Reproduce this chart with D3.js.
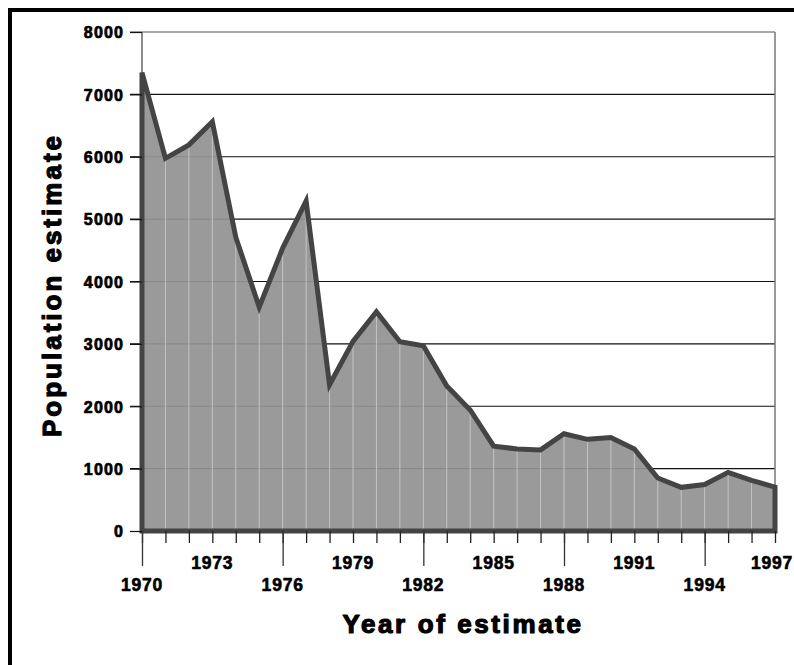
<!DOCTYPE html>
<html>
<head>
<meta charset="utf-8">
<script src="https://cdn.jsdelivr.net/npm/d3@7"></script>
<style>
  html, body { margin: 0; padding: 0; background: #fff; }
  svg { display: block; }
  text { font-family: "Liberation Sans", Arial, sans-serif; font-weight: bold; fill: #000; }
  .heavy { stroke: #000; paint-order: stroke; stroke-linejoin: round; }
</style>
</head>
<body>
<svg id="chart" width="794" height="665"></svg>
<script>
const years = [1970,1971,1972,1973,1974,1975,1976,1977,1978,1979,1980,1981,1982,1983,1984,1985,1986,1987,1988,1989,1990,1991,1992,1993,1994,1995,1996,1997];
const population = [7350,5975,6190,6560,4710,3590,4535,5290,2345,3040,3515,3035,2970,2325,1940,1360,1315,1300,1560,1470,1500,1315,850,700,745,940,810,705];
const yTicks = [0,1000,2000,3000,4000,5000,6000,7000,8000];
const upperLabelYears = [1973,1979,1985,1991,1997];
const lowerLabelYears = [1970,1976,1982,1988,1994];
const xTitle = "Year of estimate";
const yTitle = "Population estimate";

(function () {
const svg = d3.select("#chart");
const W = 794, H = 665;
const pL = 142, pR = 775, pT = 32, pB = 531;

const x = d3.scaleLinear().domain([1970, 1997]).range([pL, pR]);
const y = d3.scaleLinear().domain([0, 8000]).range([pB, pT]);

// outer frame
svg.append("rect").attr("x", 10).attr("y", 10).attr("width", W + 20).attr("height", H + 20)
  .attr("fill", "none").attr("stroke", "#000").attr("stroke-width", 4);

const data = years.map((yr, i) => ({ yr, v: population[i] }));

// horizontal gridlines
svg.append("g").selectAll("line").data(yTicks.filter(t => t > 0)).join("line")
  .attr("x1", pL - 12).attr("x2", pR)
  .attr("y1", d => y(d)).attr("y2", d => y(d))
  .attr("stroke", d => d === 8000 ? "#555" : "#111").attr("stroke-width", 1.2);

// axis frame lines (thin)
svg.append("line").attr("x1", pL).attr("x2", pL).attr("y1", pT).attr("y2", pB)
  .attr("stroke", "#666").attr("stroke-width", 1.5);
svg.append("line").attr("x1", pR).attr("x2", pR).attr("y1", pT).attr("y2", pB)
  .attr("stroke", "#777").attr("stroke-width", 1.5);

// area
const area = d3.area().x(d => x(d.yr)).y0(y(0)).y1(d => y(d.v));
svg.append("path").datum(data).attr("d", area)
  .attr("fill", "#929292").attr("fill-opacity", 0.93);

// light vertical lines inside the area
svg.append("g").selectAll("line").data(data.slice(1, -1)).join("line")
  .attr("x1", d => x(d.yr)).attr("x2", d => x(d.yr))
  .attr("y1", y(0)).attr("y2", d => y(d.v))
  .attr("stroke", "#c4c4c4").attr("stroke-width", 1);

// outline of the area
const outline = d3.line().x(d => x(d.yr)).y(d => d.py);
const pts = [{ yr: 1970, py: y(0) }].concat(data.map(d => ({ yr: d.yr, py: y(d.v) }))).concat([{ yr: 1997, py: y(0) }]);
svg.append("path").attr("d", outline(pts) + "Z")
  .attr("fill", "none").attr("stroke", "#444").attr("stroke-width", 5)
  .attr("stroke-linejoin", "miter");

// y axis ticks & labels
const yAxis = d3.axisLeft(y).tickValues(yTicks).tickSize(12).tickPadding(7).tickFormat(d3.format("d"));
const gy = svg.append("g").attr("transform", `translate(${pL},0)`).call(yAxis);
gy.select(".domain").remove();
gy.selectAll(".tick line").attr("stroke", "#111").attr("stroke-width", 1.2);
gy.selectAll(".tick text").attr("font-size", 16).attr("font-family", "Liberation Sans, Arial, sans-serif")
  .attr("font-weight", "bold").attr("fill", "#000").attr("letter-spacing", 1.2).attr("dx", 1.2).attr("dy", "0.36em")
  .attr("class", "heavy").attr("stroke-width", 0.7);

// x axis minor ticks
const xAxisMinor = d3.axisBottom(x).tickValues(years).tickSize(12).tickFormat("");
const gx = svg.append("g").attr("transform", `translate(0,${pB})`).call(xAxisMinor);
gx.select(".domain").remove();
gx.selectAll(".tick line").attr("stroke", "#222").attr("stroke-width", 1.3);

// x axis major ticks (long)
const xAxisMajor = d3.axisBottom(x).tickValues(lowerLabelYears).tickSize(35).tickFormat("");
const gx2 = svg.append("g").attr("transform", `translate(0,${pB})`).call(xAxisMajor);
gx2.select(".domain").remove();
gx2.selectAll(".tick line").attr("stroke", "#333").attr("stroke-width", 1.3);

// x labels
svg.append("g").selectAll("text").data(upperLabelYears).join("text")
  .attr("x", d => Math.min(x(d), W - 22)).attr("y", 569).attr("text-anchor", "middle")
  .attr("font-size", 17.5).attr("letter-spacing", 0.8).attr("class", "heavy").attr("stroke-width", 0.6).text(d => d);
svg.append("g").selectAll("text").data(lowerLabelYears).join("text")
  .attr("x", d => x(d)).attr("y", 591).attr("text-anchor", "middle")
  .attr("font-size", 17.5).attr("letter-spacing", 0.8).attr("class", "heavy").attr("stroke-width", 0.6).text(d => d);

// titles
svg.append("text").attr("x", 463).attr("y", 633).attr("text-anchor", "middle")
  .attr("font-size", 26).attr("letter-spacing", 2.6).attr("class", "heavy").attr("stroke-width", 1.2).text(xTitle);
svg.append("text").attr("transform", "translate(61,285) rotate(-90)").attr("text-anchor", "middle")
  .attr("font-size", 26).attr("letter-spacing", 3).attr("class", "heavy").attr("stroke-width", 1.2).text(yTitle);
})();
</script>
</body>
</html>
